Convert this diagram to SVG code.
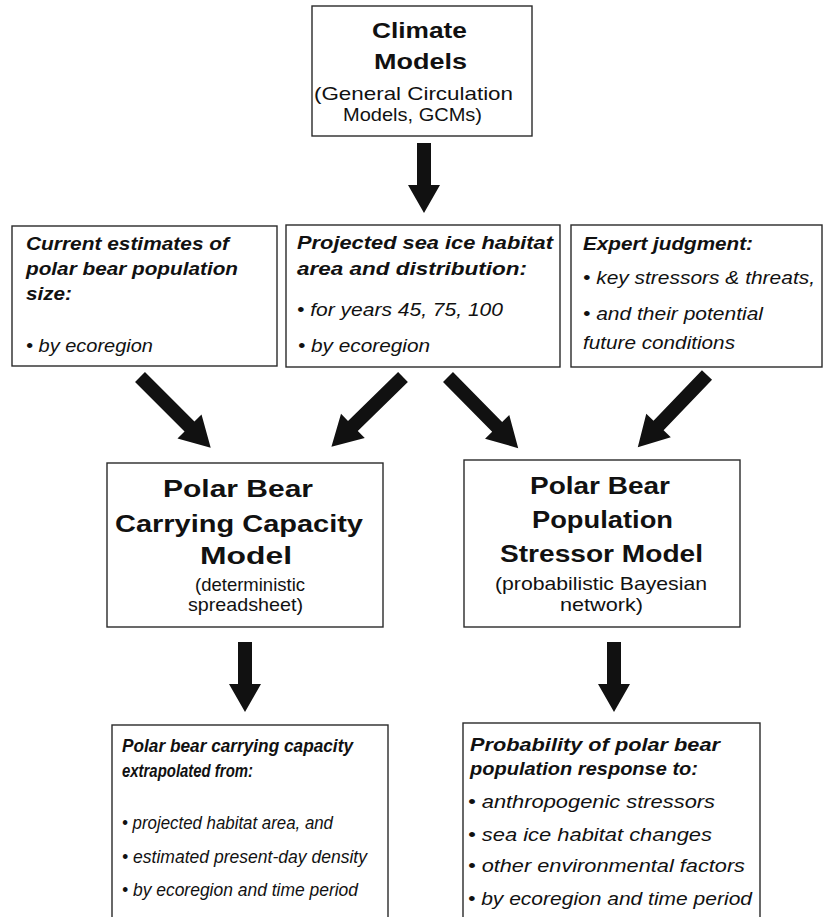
<svg xmlns="http://www.w3.org/2000/svg" xmlns:xlink="http://www.w3.org/1999/xlink" width="825" height="917" viewBox="0 0 825 917">
<style>
.box{fill:#fff;stroke:#2a2a2a;stroke-width:1.4}
text{font-family:"Liberation Sans",Arial,sans-serif;fill:#111}
.ct{font-weight:bold;font-size:22px}
.tt{font-weight:bold;font-size:23px}
.sub{font-size:18.5px}
.hb{font-weight:bold;font-style:italic;font-size:18.5px}
.it{font-style:italic;font-size:18.5px}
.arr{fill:#111}
</style>
<defs>
<path id="av" d="M-7,0 H7 V42 H16 L0,70 L-16,42 H-7 Z"/>
<path id="ad" d="M-7,0 H7 V70 H17 L0,100 L-17,70 H-7 Z"/>
</defs>
<rect width="825" height="917" fill="#fff"/>

<g id="climate-models">
<rect class="box" x="312" y="6" width="220" height="130"/>
<text class="ct" x="372" y="38" textLength="95" lengthAdjust="spacingAndGlyphs">Climate</text>
<text class="ct" x="374" y="69" textLength="93" lengthAdjust="spacingAndGlyphs">Models</text>
<text class="sub" x="314" y="100" textLength="199" lengthAdjust="spacingAndGlyphs">(General Circulation</text>
<text class="sub" x="343" y="121" textLength="139" lengthAdjust="spacingAndGlyphs">Models, GCMs)</text>
</g>

<g id="current-estimates">
<rect class="box" x="12" y="226" width="265" height="140"/>
<text class="hb" x="26" y="250" textLength="203" lengthAdjust="spacingAndGlyphs">Current estimates of</text>
<text class="hb" x="26" y="275" textLength="212" lengthAdjust="spacingAndGlyphs">polar bear population</text>
<text class="hb" x="26" y="300" textLength="46" lengthAdjust="spacingAndGlyphs">size:</text>
<text class="it" x="26" y="352" textLength="127" lengthAdjust="spacingAndGlyphs">• by ecoregion</text>
</g>

<g id="projected-sea-ice">
<rect class="box" x="286" y="225" width="274" height="142"/>
<text class="hb" x="297" y="249" textLength="256" lengthAdjust="spacingAndGlyphs">Projected sea ice habitat</text>
<text class="hb" x="297" y="275" textLength="230" lengthAdjust="spacingAndGlyphs">area and distribution:</text>
<text class="it" x="297" y="316" textLength="206" lengthAdjust="spacingAndGlyphs">• for years 45, 75, 100</text>
<text class="it" x="298" y="352" textLength="132" lengthAdjust="spacingAndGlyphs">• by ecoregion</text>
</g>

<g id="expert-judgment">
<rect class="box" x="571" y="225" width="251" height="142"/>
<text class="hb" x="583" y="250" textLength="170" lengthAdjust="spacingAndGlyphs">Expert judgment:</text>
<text class="it" x="583" y="284" textLength="232" lengthAdjust="spacingAndGlyphs">• key stressors &amp; threats,</text>
<text class="it" x="583" y="320" textLength="180" lengthAdjust="spacingAndGlyphs">• and their potential</text>
<text class="it" x="583" y="349" textLength="152" lengthAdjust="spacingAndGlyphs">future conditions</text>
</g>

<g id="carrying-capacity-model">
<rect class="box" x="107" y="463" width="276" height="164"/>
<text class="tt" x="163" y="497" textLength="150" lengthAdjust="spacingAndGlyphs">Polar Bear</text>
<text class="tt" x="115" y="532" textLength="248" lengthAdjust="spacingAndGlyphs">Carrying Capacity</text>
<text class="tt" x="200" y="564" textLength="92" lengthAdjust="spacingAndGlyphs">Model</text>
<text class="sub" x="195" y="591" textLength="110" lengthAdjust="spacingAndGlyphs">(deterministic</text>
<text class="sub" x="188" y="611" textLength="115" lengthAdjust="spacingAndGlyphs">spreadsheet)</text>
</g>

<g id="stressor-model">
<rect class="box" x="464" y="460" width="276" height="167"/>
<text class="tt" x="530" y="494" textLength="140" lengthAdjust="spacingAndGlyphs">Polar Bear</text>
<text class="tt" x="532" y="528" textLength="141" lengthAdjust="spacingAndGlyphs">Population</text>
<text class="tt" x="500" y="562" textLength="203" lengthAdjust="spacingAndGlyphs">Stressor Model</text>
<text class="sub" x="495" y="590" textLength="212" lengthAdjust="spacingAndGlyphs">(probabilistic Bayesian</text>
<text class="sub" x="560" y="611" textLength="83" lengthAdjust="spacingAndGlyphs">network)</text>
</g>

<g id="carrying-capacity-output">
<rect class="box" x="112" y="725" width="276" height="205"/>
<text class="hb" x="122" y="752" textLength="231" lengthAdjust="spacingAndGlyphs">Polar bear carrying capacity</text>
<text class="hb" x="122" y="777" textLength="131" lengthAdjust="spacingAndGlyphs">extrapolated from:</text>
<text class="it" x="122" y="829" textLength="211" lengthAdjust="spacingAndGlyphs">• projected habitat area, and</text>
<text class="it" x="122" y="863" textLength="245" lengthAdjust="spacingAndGlyphs">• estimated present-day density</text>
<text class="it" x="122" y="896" textLength="236" lengthAdjust="spacingAndGlyphs">• by ecoregion and time period</text>
</g>

<g id="population-response-output">
<rect class="box" x="463" y="723" width="297" height="207"/>
<text class="hb" x="470" y="751" textLength="250" lengthAdjust="spacingAndGlyphs">Probability of polar bear</text>
<text class="hb" x="470" y="775" textLength="228" lengthAdjust="spacingAndGlyphs">population response to:</text>
<text class="it" x="468" y="808" textLength="247" lengthAdjust="spacingAndGlyphs">• anthropogenic stressors</text>
<text class="it" x="468" y="841" textLength="244" lengthAdjust="spacingAndGlyphs">• sea ice habitat changes</text>
<text class="it" x="468" y="872" textLength="277" lengthAdjust="spacingAndGlyphs">• other environmental factors</text>
<text class="it" x="468" y="905" textLength="284" lengthAdjust="spacingAndGlyphs">• by ecoregion and time period</text>
</g>

<g id="connectors" class="arr">
<use xlink:href="#av" transform="translate(424,143)"/>
<use xlink:href="#ad" transform="translate(140,377) rotate(-45)"/>
<use xlink:href="#ad" transform="translate(403,377) rotate(45.7)"/>
<use xlink:href="#ad" transform="translate(448,377) rotate(-44.6)"/>
<use xlink:href="#ad" transform="translate(707,375) rotate(43.8)"/>
<use xlink:href="#av" transform="translate(245,642)"/>
<use xlink:href="#av" transform="translate(614,642)"/>
</g>
</svg>
